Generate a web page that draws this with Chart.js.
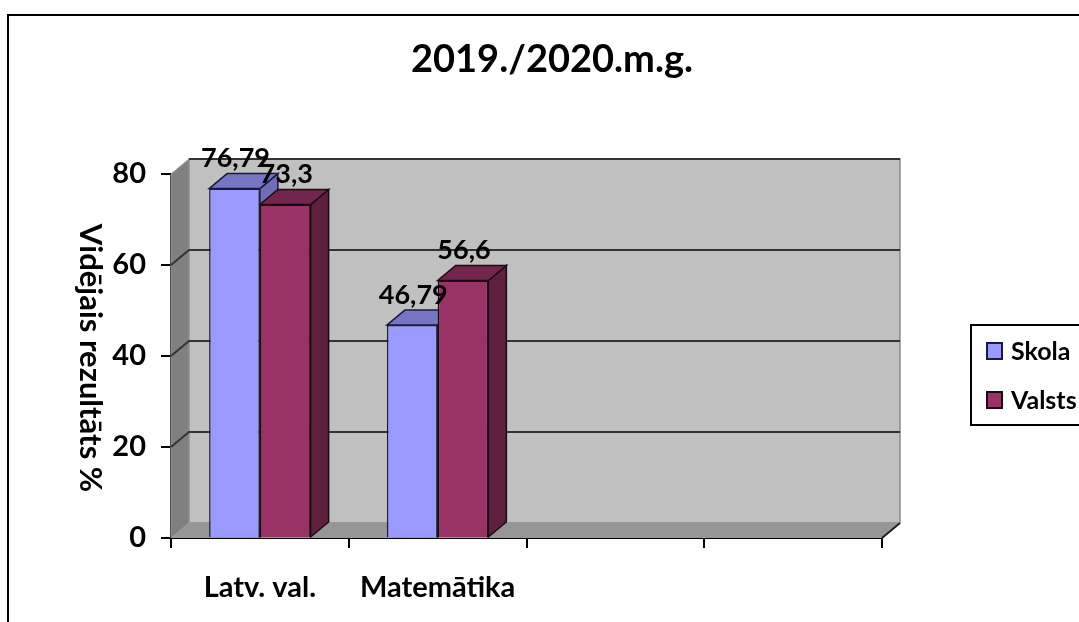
<!DOCTYPE html>
<html>
<head>
<meta charset="utf-8">
<title>2019./2020.m.g.</title>
<script src="https://cdn.jsdelivr.net/npm/chart.js@4"></script>
<style>
  html, body { margin: 0; padding: 0; background: #fff; overflow: hidden; }
  canvas { display: block; }
</style>
</head>
<body>
<canvas id="myChart" width="1079" height="622"></canvas>
<script>
const chartTitle = '2019./2020.m.g.';
const yAxisTitle = 'Vidējais rezultāts %';
const categories = ['Latv. val.', 'Matemātika', '', ''];
const skolaValues = [76.79, 46.79, null, null];
const valstsValues = [73.3, 56.6, null, null];
const yTicks = [0, 20, 40, 60, 80];

const FONT = 'Lato, "Open Sans", sans-serif';
// depth of the fake 3d box
const DX = 18;
const DY = 15;

function poly(ctx, pts, fill, stroke, lw) {
    ctx.beginPath();
    pts.forEach((p, i) => i ? ctx.lineTo(p[0], p[1]) : ctx.moveTo(p[0], p[1]));
    ctx.closePath();
    ctx.fillStyle = fill;
    ctx.fill();
    if (stroke) {
        ctx.strokeStyle = stroke;
        ctx.lineWidth = lw || 1;
        ctx.stroke();
    }
}

const box3d = {
    id: 'box3d',
    beforeDatasetsDraw(chart) {
        const ctx = chart.ctx;
        const a = chart.chartArea;
        const y = chart.scales.y;
        ctx.save();

        // walls and floor
        poly(ctx, [[a.left + DX, a.top - DY], [a.right + DX, a.top - DY], [a.right + DX, a.bottom - DY], [a.left + DX, a.bottom - DY]], '#C0C0C0', '#8c8c8c', 1.5);
        poly(ctx, [[a.left, a.top], [a.left + DX, a.top - DY], [a.left + DX, a.bottom - DY], [a.left, a.bottom]], '#808080', '#999999', 1);
        poly(ctx, [[a.left, a.bottom], [a.right, a.bottom], [a.right + DX, a.bottom - DY], [a.left + DX, a.bottom - DY]], '#969696');

        // grid lines on the back and side wall
        ctx.strokeStyle = '#333333';
        ctx.lineWidth = 2;
        yTicks.forEach(t => {
            if (t === 0) return;
            const py = y.getPixelForValue(t);
            ctx.beginPath();
            if (t === 80) {
                ctx.moveTo(a.left + DX, py - DY);
            } else {
                ctx.moveTo(a.left, py);
                ctx.lineTo(a.left + DX, py - DY);
            }
            ctx.lineTo(a.right + DX, py - DY);
            ctx.stroke();
        });
        ctx.beginPath();
        ctx.moveTo(a.right, a.bottom);
        ctx.lineTo(a.right + DX, a.bottom - DY);
        ctx.strokeStyle = '#222222';
        ctx.stroke();

        // top and side of the bars, the front faces come from chart.js on top
        chart.data.datasets.forEach((ds, i) => {
            chart.getDatasetMeta(i).data.forEach((bar, j) => {
                if (ds.data[j] === null) return;
                const l = bar.x - bar.width / 2;
                const r = bar.x + bar.width / 2;
                poly(ctx, [[r, bar.y], [r + DX, bar.y - DY], [r + DX, bar.base - DY], [r, bar.base]], ds.sideColor, ds.borderColor, 1.5);
                poly(ctx, [[l, bar.y], [l + DX, bar.y - DY], [r + DX, bar.y - DY], [r, bar.y]], ds.topColor, ds.borderColor, 1.5);
            });
        });
        ctx.restore();
    },
    afterDatasetsDraw(chart) {
        const ctx = chart.ctx;
        ctx.save();
        ctx.fillStyle = '#000';
        ctx.font = 'bold 27px ' + FONT;
        ctx.textAlign = 'center';
        ctx.textBaseline = 'middle';
        chart.data.datasets.forEach((ds, i) => {
            chart.getDatasetMeta(i).data.forEach((bar, j) => {
                if (ds.data[j] === null) return;
                ctx.fillText(String(ds.data[j]).replace('.', ','), bar.x + 1, bar.y - 30);
            });
        });
        ctx.restore();
    },
    afterDraw(chart) {
        const ctx = chart.ctx;
        ctx.save();

        // outer frame, open at the right and the bottom like the source
        ctx.strokeStyle = '#000';
        ctx.lineWidth = 2;
        ctx.beginPath();
        ctx.moveTo(8, 622);
        ctx.lineTo(8, 15);
        ctx.lineTo(1079, 15);
        ctx.stroke();

        // title
        ctx.fillStyle = '#000';
        ctx.font = 'bold 38px ' + FONT;
        ctx.textAlign = 'center';
        ctx.textBaseline = 'middle';
        ctx.fillText(chartTitle, 552, 60);

        // y axis title reads top to bottom, the scale title can only do this on the right side
        ctx.save();
        ctx.translate(90, 358);
        ctx.rotate(Math.PI / 2);
        ctx.font = 'bold 31px ' + FONT;
        ctx.fillText(yAxisTitle, 0, 0);
        ctx.restore();

        // legend
        ctx.lineWidth = 2;
        ctx.strokeRect(971, 325, 130, 100);
        ctx.font = 'bold 25px ' + FONT;
        ctx.textAlign = 'left';
        chart.data.datasets.forEach((ds, i) => {
            const my = 351 + i * 49;
            ctx.fillStyle = ds.backgroundColor;
            ctx.strokeStyle = ds.borderColor;
            ctx.lineWidth = 2;
            ctx.fillRect(987, my - 8, 15, 16);
            ctx.strokeRect(987, my - 8, 15, 16);
            ctx.fillStyle = '#000';
            ctx.fillText(ds.label, 1011, my + 1);
        });
        ctx.restore();
    }
};

const ctx = document.getElementById('myChart').getContext('2d');
const myChart = new Chart(ctx, {
    type: 'bar',
    data: {
        labels: categories,
        datasets: [
            {
                label: 'Skola',
                data: skolaValues,
                backgroundColor: '#9999FF',
                borderColor: '#1a1a40',
                topColor: '#7676C4',
                sideColor: '#6E6EB8',
                borderWidth: 1.5
            },
            {
                label: 'Valsts',
                data: valstsValues,
                backgroundColor: '#993366',
                borderColor: '#1a0a12',
                topColor: '#73264D',
                sideColor: '#5F2040',
                borderWidth: 1.5
            }
        ]
    },
    options: {
        responsive: false,
        animation: false,
        layout: { padding: { top: 174, right: 197, left: 0, bottom: 0 } },
        datasets: { bar: { categoryPercentage: 0.571, barPercentage: 1 } },
        plugins: {
            legend: { display: false },
            title: { display: false },
            tooltip: { enabled: false }
        },
        scales: {
            x: {
                afterFit: s => { s.height = 84; },
                grid: { drawOnChartArea: false, drawTicks: true, tickLength: 10, color: '#000', lineWidth: 2 },
                border: { color: '#000', width: 2 },
                ticks: {
                    color: '#000',
                    padding: 22,
                    maxRotation: 0,
                    autoSkip: false,
                    font: { family: FONT, weight: 'bold', size: 29 }
                }
            },
            y: {
                min: 0,
                max: 80,
                afterFit: s => { s.width = 171; },
                afterBuildTicks: s => { s.ticks = yTicks.map(v => ({ value: v })); },
                grid: { drawOnChartArea: false, drawTicks: true, tickLength: 10, color: '#000', lineWidth: 2 },
                border: { color: '#000', width: 2 },
                ticks: {
                    color: '#000',
                    padding: 15,
                    font: { family: FONT, weight: 'bold', size: 29 }
                }
            }
        }
    },
    plugins: [box3d]
});
</script>
</body>
</html>
